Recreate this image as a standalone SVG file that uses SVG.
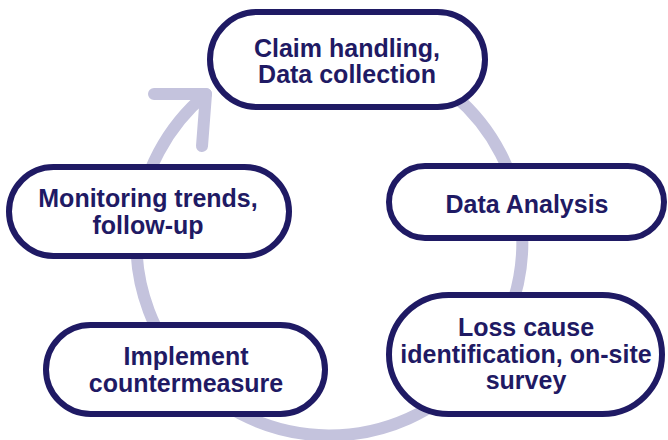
<svg xmlns="http://www.w3.org/2000/svg" width="668" height="440" viewBox="0 0 668 440">
  <style>
    .node rect { fill: #ffffff; stroke: #1f1a64; stroke-width: 6; }
    .node text { font-family: "Liberation Sans", Arial, sans-serif; font-weight: bold; font-size: 25px; fill: #1f1a64; text-anchor: middle; }
    .cycle { fill: none; stroke: #c4c3dd; stroke-width: 12; stroke-linecap: round; stroke-linejoin: round; }
  </style>
  <rect width="668" height="440" fill="#ffffff"/>
  <g id="connectors">
    <path class="cycle" d="M454.1,95.2 A193,193 0 1,1 206,94"/>
    <path class="cycle" d="M154,94 L206,94 L202,146"/>
  </g>
  <g id="node-claim" class="node">
    <rect x="210" y="12" width="275" height="95" rx="47.5" ry="47.5"/>
    <text x="347" y="57">Claim handling,</text>
    <text x="347" y="83">Data collection</text>
  </g>
  <g id="node-analysis" class="node">
    <rect x="389" y="166" width="275" height="72" rx="36" ry="36"/>
    <text x="527" y="213">Data Analysis</text>
  </g>
  <g id="node-loss" class="node">
    <rect x="389" y="295" width="273" height="119" rx="59.5" ry="59.5"/>
    <text x="526" y="336">Loss cause</text>
    <text x="526" y="363">identification, on-site</text>
    <text x="526" y="389">survey</text>
  </g>
  <g id="node-implement" class="node">
    <rect x="46" y="325" width="279" height="89" rx="44.5" ry="44.5"/>
    <text x="186" y="365">Implement</text>
    <text x="186" y="392">countermeasure</text>
  </g>
  <g id="node-monitoring" class="node">
    <rect x="9" y="167" width="280" height="89" rx="44.5" ry="44.5"/>
    <text x="148" y="207">Monitoring trends,</text>
    <text x="148" y="234">follow-up</text>
  </g>
</svg>
